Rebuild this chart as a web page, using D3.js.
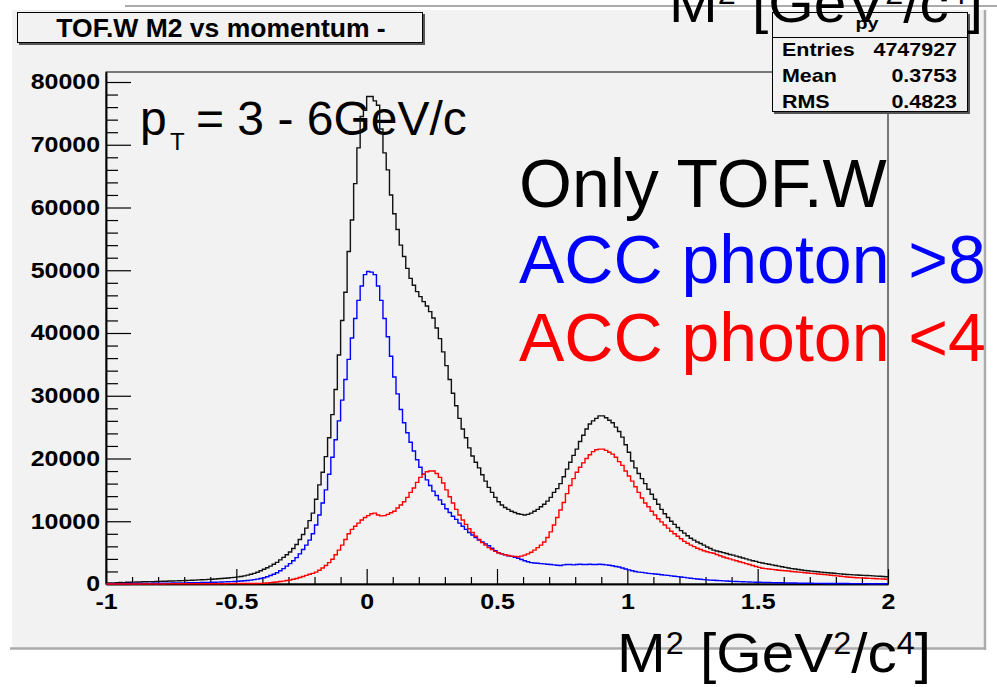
<!DOCTYPE html>
<html><head><meta charset="utf-8">
<script src="https://cdn.jsdelivr.net/npm/d3@7"></script>
<style>body{margin:0;background:#fff;overflow:hidden}text{font-family:"Liberation Sans",Arial,Helvetica,sans-serif}</style>
</head><body>
<svg id="c" width="997" height="687"></svg>
<script>
// histogram binning
const binLow = -1, binWidth = 0.0125;
// Only TOF.W (black)
const onlyTOF = [
150,180,170,210,230,220,270,290,
300,320,310,350,360,380,370,410,
420,440,450,470,490,500,520,540,
560,580,600,620,650,670,700,730,
760,790,830,870,910,960,1010,1060,
1130,1200,1300,1420,1550,1700,1880,2100,
2350,2600,2850,3150,3450,3850,4250,4650,
5100,5650,6300,7100,7900,8900,10100,11300,
13500,15800,17800,20300,23300,27000,31000,36500,
42000,46500,53000,58000,63800,69500,74500,75500,
77700,77700,77000,76300,72500,68700,66000,62000,
59000,56500,54000,52200,50300,48700,47600,46600,
45800,45000,44300,43400,42400,40800,39100,37000,
34800,32600,30400,28400,26400,24700,23300,21700,
20400,19400,18500,17400,16400,15400,14600,13800,
13100,12600,12200,11900,11600,11400,11200,11100,
11000,11100,11300,11600,11900,12300,12700,13200,
13800,14600,15200,16000,17100,18300,19400,20500,
21500,22700,23700,24700,25500,26000,26400,26800,
26800,26500,26100,25700,25000,24300,23400,22200,
21000,19600,18500,17600,16800,16000,15100,14300,
13500,12700,11900,11200,10600,10000,9500,9000,
8500,8100,7700,7300,7000,6700,6450,6200,
5900,5650,5400,5250,5150,5000,4850,4700,
4600,4450,4300,4150,4000,3850,3700,3600,
3450,3350,3250,3150,3050,2950,2850,2750,
2650,2550,2450,2380,2300,2230,2160,2100,
2050,2000,1950,1890,1840,1790,1750,1720,
1660,1620,1560,1520,1490,1450,1440,1400,
1380,1350,1330,1290,1260,1230,1200,1160
];
// ACC photon > 8 (blue)
const accGt8 = [
40,50,45,60,55,60,70,75,
80,85,90,95,100,105,110,115,
120,125,135,140,150,160,165,175,
180,190,200,210,220,235,245,260,
270,285,300,320,340,360,385,410,
440,470,510,560,620,690,770,870,
1000,1150,1350,1550,1800,2100,2450,2850,
3250,3700,4200,4800,5500,6200,7000,8000,
9400,11000,12900,15000,17500,20200,23000,26000,
29300,32600,35800,39200,42300,45200,47500,49300,
49800,49700,49300,47500,45200,42300,39400,36300,
33000,30300,27800,25700,24100,22600,21200,19800,
18600,17500,16600,15700,14800,14100,13400,12700,
12000,11400,10800,10300,9700,9200,8700,8200,
7800,7400,7000,6700,6400,6100,5700,5300,
5000,4800,4650,4500,4400,4250,4100,3900,
3700,3550,3400,3350,3300,3250,3200,3150,
3100,3050,3000,2950,3050,3100,3100,3050,
3100,3150,3100,3100,3150,3100,3100,3150,
3100,3050,3000,2900,2800,2700,2550,2400,
2250,2100,2000,1900,1850,1780,1700,1650,
1600,1550,1480,1420,1370,1300,1240,1180,
1120,1050,980,920,860,800,750,700,
660,620,590,560,530,500,480,450,
420,400,380,360,340,320,300,285,
270,260,240,230,220,210,200,190,
180,170,160,150,140,130,120,115,
110,105,100,95,90,90,85,80,
80,75,70,70,65,65,60,60,
55,55,50,50,45,45,40,40
];
// ACC photon < 4 (red)
const accLt4 = [
0,0,10,0,10,0,10,10,
10,0,10,20,10,10,20,10,
20,10,20,20,30,20,30,30,
30,30,40,30,40,40,50,40,
50,40,50,60,50,60,60,70,
60,70,70,80,80,90,90,100,
110,170,220,270,330,390,460,550,
640,750,880,1030,1200,1380,1550,1700,
1900,2200,2550,2950,3400,3950,4650,5400,
6200,7100,8000,8700,9200,9700,10200,10600,
10900,11200,11300,11000,10850,10900,11100,11350,
11600,12100,12600,13100,13800,14600,15300,16200,
17000,17500,17900,18000,18000,17600,17000,16100,
15000,13900,12900,11900,11000,10200,9500,8800,
8200,7600,7100,6600,6200,5800,5500,5200,
4950,4800,4650,4550,4450,4400,4350,4450,
4600,4800,5050,5400,5800,6200,6700,7400,
8300,9400,10600,11800,13000,14400,15700,16800,
17800,18600,19300,20000,20600,21100,21400,21500,
21500,21300,21000,20700,20200,19500,18900,18000,
17200,16400,15500,14600,13700,12900,12300,11600,
11000,10400,9900,9400,8900,8400,8000,7600,
7200,6800,6500,6200,5950,5700,5500,5300,
5150,5000,4900,4700,4500,4300,4150,4000,
3850,3700,3550,3400,3250,3100,2950,2800,
2650,2520,2450,2400,2330,2270,2200,2150,
2100,2060,2000,1950,1900,1850,1800,1760,
1700,1650,1600,1550,1500,1450,1400,1350,
1300,1240,1180,1120,1080,1040,1000,980,
950,920,900,870,840,810,790,760
];
const xTicks = [-1, -0.5, 0, 0.5, 1, 1.5, 2];
const xTickLabels = ["-1", "-0.5", "0", "0.5", "1", "1.5", "2"];
const xMinorTicks = [-0.9,-0.8,-0.7,-0.6,-0.4,-0.3,-0.2,-0.1,0.1,0.2,0.3,0.4,0.6,0.7,0.8,0.9,1.1,1.2,1.3,1.4,1.6,1.7,1.8,1.9];
const yTicks = [0, 10000, 20000, 30000, 40000, 50000, 60000, 70000, 80000];
const yMinorTicks = d3.range(2000, 81000, 2000).filter(v => v % 10000 !== 0);
const statNames = ["Entries", "Mean", "RMS"];
const statValues = ["4747927", "0.3753", "0.4823"];
const histTitle = "TOF.W M2 vs momentum -";
const statTitle = "py";
const legendLines = ["Only TOF.W", "ACC photon >8", "ACC photon <4"];
const legendColors = ["#000000", "#0000ff", "#ff0000"];

const svg = d3.select("#c");
const L = 106, R = 888, T = 72, B = 584;
const x = d3.scaleLinear().domain([-1, 2]).range([L, R]);
const y = d3.scaleLinear().domain([0, 81594]).range([B, T]);

// ROOT canvas background
svg.append("rect").attr("x", 12).attr("y", 10).attr("width", 973).attr("height", 638).attr("fill", "#f2f2f2");
svg.append("line").attr("x1", 125).attr("x2", 997).attr("y1", 6).attr("y2", 6).attr("stroke", "#ababab").attr("stroke-width", 2);
svg.append("line").attr("x1", 985).attr("x2", 985).attr("y1", 10).attr("y2", 650).attr("stroke", "#ababab").attr("stroke-width", 2.5);
svg.append("line").attr("x1", 10).attr("x2", 986).attr("y1", 648.5).attr("y2", 648.5).attr("stroke", "#ababab").attr("stroke-width", 2.5);

// big annotations (drawn under the frame)
const pt = svg.append("text").attr("x", 140).attr("y", 135).attr("font-size", 48).attr("fill", "#000");
pt.append("tspan").text("p");
pt.append("tspan").attr("x", 170).attr("dy", 15).attr("font-size", 24).text("T");
pt.append("tspan").attr("x", 196).attr("dy", -15).text("= 3 - 6GeV/c");

const legY = [207, 283, 361];
legendLines.forEach((t, i) => {
  svg.append("text").attr("x", 519).attr("y", legY[i]).attr("font-size", 68).attr("fill", legendColors[i]).text(t);
});

// frame
svg.append("rect").attr("x", L).attr("y", T).attr("width", R - L).attr("height", B - T)
  .attr("fill", "none").attr("stroke", "#000").attr("stroke-width", 1);

// axes
const fontAx = 21.5, sx = 1.16;
const yAx = svg.append("g").attr("transform", `translate(${L},0)`)
  .call(d3.axisLeft(y).tickValues(yTicks).tickSize(-25).tickSizeOuter(0).tickPadding(6).tickFormat(d3.format("d")));
const yMin = svg.append("g").attr("transform", `translate(${L},0)`)
  .call(d3.axisLeft(y).tickValues(yMinorTicks).tickSize(-12).tickSizeOuter(0).tickFormat(""));
const xAx = svg.append("g").attr("transform", `translate(0,${B})`)
  .call(d3.axisBottom(x).tickValues(xTicks).tickSize(-15).tickSizeOuter(0).tickPadding(10).tickFormat((d, i) => xTickLabels[i]));
const xMin = svg.append("g").attr("transform", `translate(0,${B})`)
  .call(d3.axisBottom(x).tickValues(xMinorTicks).tickSize(-7).tickSizeOuter(0).tickFormat(""));
[yAx, yMin, xAx, xMin].forEach(g => {
  g.select(".domain").attr("stroke", "#000").attr("stroke-width", 1.5);
  g.selectAll(".tick line").attr("stroke", "#000").attr("stroke-width", 1.2);
  g.selectAll("text").attr("font-family", '"Liberation Sans",Arial,sans-serif')
    .attr("font-weight", "bold").attr("font-size", fontAx).attr("fill", "#000");
});
yAx.selectAll(".tick text").attr("transform", `scale(${sx},1)`).attr("x", -6 / sx);
xAx.selectAll(".tick text").attr("transform", `scale(${sx},1)`);

// histograms (over the axes, as in ROOT)
function hist(vals, color) {
  const pts = vals.map((v, i) => [binLow + i * binWidth, v]);
  pts.push([binLow + vals.length * binWidth, vals[vals.length - 1]]);
  svg.append("path").datum(pts)
    .attr("d", d3.line().x(d => x(d[0])).y(d => y(d[1])).curve(d3.curveStepAfter))
    .attr("fill", "none").attr("stroke", color).attr("stroke-width", 1.4);
}
hist(onlyTOF, "#111");
hist(accGt8, "#0000ff");
hist(accLt4, "#ff0000");

// title box
svg.append("rect").attr("x", 19).attr("y", 14).attr("width", 406).attr("height", 31).attr("fill", "#555");
svg.append("rect").attr("x", 17.5).attr("y", 12.5).attr("width", 405).attr("height", 30).attr("fill", "#f2f2f2").attr("stroke", "#000").attr("stroke-width", 1);
svg.append("text").attr("x", 221).attr("y", 37).attr("text-anchor", "middle").attr("font-size", 26.5)
  .attr("font-weight", "bold").text(histTitle);

// stats box
svg.append("rect").attr("x", 774).attr("y", 14).attr("width", 196).attr("height", 100).attr("fill", "#555");
svg.append("rect").attr("x", 772.5).attr("y", 12.5).attr("width", 195).attr("height", 99).attr("fill", "#f2f2f2").attr("stroke", "#000").attr("stroke-width", 1);
svg.append("line").attr("x1", 772.5).attr("x2", 967.5).attr("y1", 37.5).attr("y2", 37.5).attr("stroke", "#000");
svg.append("text").attr("transform", "translate(867,29) scale(1.16,1)").attr("text-anchor", "middle")
  .attr("font-size", 17).attr("font-weight", "bold").text(statTitle);
const statY = [56, 82, 108];
statNames.forEach((n, i) => {
  svg.append("text").attr("transform", `translate(782,${statY[i]}) scale(1.16,1)`).attr("font-size", 18.5).attr("font-weight", "bold").text(n);
  svg.append("text").attr("transform", `translate(957,${statY[i]}) scale(1.16,1)`).attr("text-anchor", "end").attr("font-size", 18.5).attr("font-weight", "bold").text(statValues[i]);
});

// axis title (shown twice, as in the slide)
function axisTitle(x0, y0) {
  const t = svg.append("text").attr("x", x0).attr("y", y0).attr("font-size", 56).attr("fill", "#000")
    .attr("textLength", 314).attr("lengthAdjust", "spacingAndGlyphs");
  t.append("tspan").text("M");
  t.append("tspan").attr("dy", -18).attr("font-size", 31).text("2");
  t.append("tspan").attr("dy", 18).text(" [GeV");
  t.append("tspan").attr("dy", -18).attr("font-size", 31).text("2");
  t.append("tspan").attr("dy", 18).text("/c");
  t.append("tspan").attr("dy", -18).attr("font-size", 31).text("4");
  t.append("tspan").attr("dy", 18).text("]");
}
axisTitle(617, 672);
axisTitle(669, 22);
</script>
</body></html>
